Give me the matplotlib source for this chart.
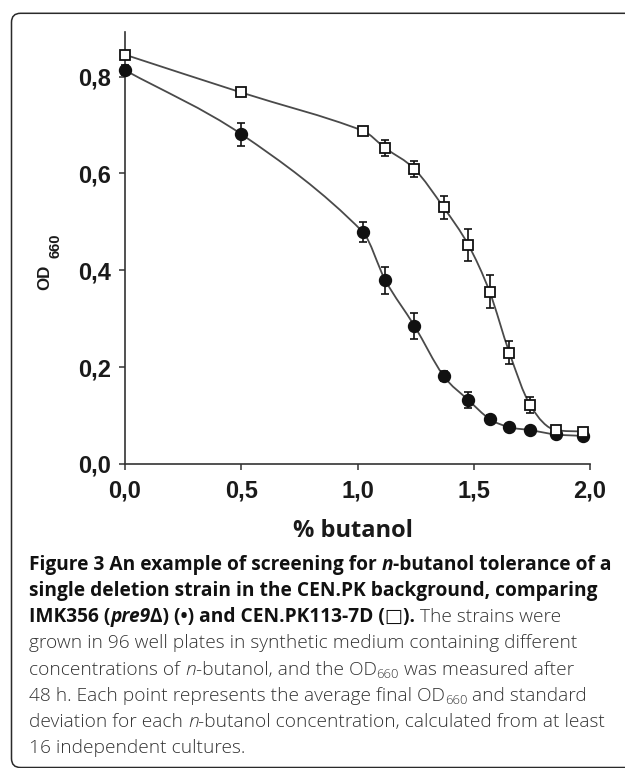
import numpy as np
import matplotlib
matplotlib.use('Agg')
import matplotlib.pyplot as plt
from matplotlib.path import Path
from matplotlib.patches import PathPatch, FancyBboxPatch
import matplotlib.transforms as mtransforms

# ---------------- data ----------------
butanol = [0.0, 0.5, 1.023, 1.12, 1.245, 1.37, 1.477, 1.568, 1.653, 1.742, 1.853, 1.97]
od_pre9 = [0.813, 0.681, 0.479, 0.379, 0.285, 0.182, 0.132, 0.093, 0.076, 0.070, 0.061, 0.058]
sd_pre9 = [0.010, 0.024, 0.020, 0.027, 0.027, 0.010, 0.017, 0.008, 0.006, 0.006, 0.005, 0.005]
od_wt = [0.845, 0.767, 0.688, 0.652, 0.609, 0.530, 0.452, 0.356, 0.230, 0.122, 0.070, 0.067]
sd_wt = [0.006, 0.004, 0.006, 0.017, 0.017, 0.024, 0.033, 0.034, 0.024, 0.017, 0.006, 0.006]
xticks = [0.0, 0.5, 1.0, 1.5, 2.0]
xticklabels = ['0,0', '0,5', '1,0', '1,5', '2,0']
yticks = [0.0, 0.2, 0.4, 0.6, 0.8]
yticklabels = ['0,0', '0,2', '0,4', '0,6', '0,8']
xlabel = '% butanol'

W, H, DPI = 625, 768, 100
fig = plt.figure(figsize=(W / DPI, H / DPI), dpi=DPI)
fig.patch.set_facecolor('white')
px = mtransforms.Affine2D().scale(1.0 / W, 1.0 / H) + fig.transFigure


def ptop(y):
    """pixel from top -> pixel from bottom"""
    return H - y


# rounded frame (open to the right)
frame = FancyBboxPatch((11.5, ptop(767.5)), 700, 767.5 - 13.3,
                       boxstyle='round,pad=0,rounding_size=9',
                       transform=px, fill=False, edgecolor='#2a2a2a',
                       linewidth=1.1, clip_on=False)
fig.patches.append(frame)

# ---------------- axes ----------------
ax_l, ax_r = 125, 590
ax_b, ax_t = 464, 31.7
ax = fig.add_axes([ax_l / W, ptop(ax_b) / H, (ax_r - ax_l) / W, (ax_b - ax_t) / H])
ax.set_xlim(0, 2.0)
ax.set_ylim(0, 0.8925)
ax.patch.set_alpha(0)
for s in ['top', 'right']:
    ax.spines[s].set_visible(False)
for s in ['left', 'bottom']:
    ax.spines[s].set_linewidth(1.2)
    ax.spines[s].set_color('#333333')
ax.tick_params(direction='out', length=4.3, width=1.1, color='#333333', pad=6)
ax.set_xticks(xticks)
ax.set_xticklabels(xticklabels, fontfamily='Liberation Sans', fontweight='bold',
                   fontsize=17, color='#1a1a1a')
ax.set_yticks(yticks)
ax.set_yticklabels(yticklabels, fontfamily='Liberation Sans', fontweight='bold',
                   fontsize=17, color='#1a1a1a')
ax.tick_params(axis='x', pad=7)
ax.tick_params(axis='y', pad=6)


def smooth_path(x, y):
    """Cubic Hermite curve through the points (chord tangents, limited)."""
    x = np.asarray(x, float)
    y = np.asarray(y, float)
    n = len(x)
    h = np.diff(x)
    d = np.diff(y) / h
    m = np.zeros(n)
    m[0], m[-1] = d[0], d[-1]
    for k in range(1, n - 1):
        if d[k - 1] * d[k] <= 0:
            m[k] = 0.0
        else:
            m[k] = (y[k + 1] - y[k - 1]) / (x[k + 1] - x[k - 1])
            lim = 3 * min(abs(d[k - 1]), abs(d[k]))
            if abs(m[k]) > lim:
                m[k] = np.sign(m[k]) * lim
    verts = [(x[0], y[0])]
    codes = [Path.MOVETO]
    for k in range(n - 1):
        verts += [(x[k] + h[k] / 3, y[k] + m[k] * h[k] / 3),
                  (x[k + 1] - h[k] / 3, y[k + 1] - m[k + 1] * h[k] / 3),
                  (x[k + 1], y[k + 1])]
        codes += [Path.CURVE4] * 3
    return Path(verts, codes)


for yv in (od_pre9, od_wt):
    ax.add_patch(PathPatch(smooth_path(butanol, yv), fill=False,
                           edgecolor='#4a4a4a', linewidth=1.3, zorder=2))

ax.errorbar(butanol, od_pre9, yerr=sd_pre9, fmt='none', ecolor='#111111',
            elinewidth=1.2, capsize=3, capthick=1.2, zorder=3, clip_on=False)
ax.errorbar(butanol, od_wt, yerr=sd_wt, fmt='none', ecolor='#111111',
            elinewidth=1.2, capsize=3, capthick=1.2, zorder=3, clip_on=False)
ax.plot(butanol, od_pre9, linestyle='none', marker='o', ms=8.6,
        mfc='#111111', mec='#111111', zorder=4, clip_on=False)
ax.plot(butanol, od_wt, linestyle='none', marker='s', ms=7.6,
        mfc='white', mec='#111111', mew=1.3, zorder=5, clip_on=False)

# x label
fig.text(353 / W, ptop(537) / H, xlabel, transform=fig.transFigure,
         ha='center', va='baseline', fontfamily='Open Sans',
         fontweight='bold', fontsize=17, color='#1a1a1a')

# ---------------- text layout helpers ----------------
fig.canvas.draw()
renderer = fig.canvas.get_renderer()


def advance(s, props):
    t1 = fig.text(0, 0, s + '|', **props)
    t2 = fig.text(0, 0, '|', **props)
    w = t1.get_window_extent(renderer).width - t2.get_window_extent(renderer).width
    t1.remove()
    t2.remove()
    return w


# y label OD660, rotated
fig.text(49.5 / W, ptop(290) / H, 'OD', ha='left', va='baseline',
         rotation=90, rotation_mode='anchor', fontfamily='Liberation Sans',
         fontweight='bold', fontsize=12.2, color='#1a1a1a')
fig.text(59.5 / W, ptop(257.5) / H, '660', ha='left', va='baseline',
         rotation=90, rotation_mode='anchor', fontfamily='Liberation Sans',
         fontweight='bold', fontsize=10.5, color='#1a1a1a')

# caption
FAM = ['Open Sans', 'DejaVu Sans']
CS = 13.8
B = dict(family=FAM, weight='bold', style='normal', size=CS, color='#111111')
BI = dict(family=FAM, weight='bold', style='italic', size=CS, color='#111111')
R = dict(family=FAM, weight='light', style='normal', size=CS, color='#333333')
RI = dict(family=FAM, weight='light', style='italic', size=CS, color='#333333')
RS = dict(family=FAM, weight='light', style='normal', size=CS * 0.68, color='#333333')

caption = [
    [('Figure 3 An example of screening for ', B), ('n', BI), ('-butanol tolerance of a', B)],
    [('single deletion strain in the CEN.PK background, comparing', B)],
    [('IMK356 (', B), ('pre9', BI), ('\u0394) (\u2022) and CEN.PK113-7D (\u25a1).', B),
     (' The strains were', R)],
    [('grown in 96 well plates in synthetic medium containing different', R)],
    [('concentrations of ', R), ('n', RI), ('-butanol, and the OD', R), ('660', RS),
     (' was measured after', R)],
    [('48 h. Each point represents the average final OD', R), ('660', RS),
     (' and standard', R)],
    [('deviation for each ', R), ('n', RI), ('-butanol concentration, calculated from at least', R)],
    [('16 independent cultures.', R)],
]

x_start = 29
base0 = 570
lead = 26.15
for i, line in enumerate(caption):
    x = x_start
    yb = ptop(base0 + i * lead)
    for txt, st in line:
        props = dict(fontfamily=st['family'], fontweight=st['weight'],
                     fontstyle=st['style'], fontsize=st['size'], color=st['color'])
        dy = -3.5 if st is RS else 0
        fig.text(x / W, (yb + dy) / H, txt, ha='left', va='baseline', **props)
        x += advance(txt, props)

fig.savefig('out.png', dpi=DPI, facecolor='white')
